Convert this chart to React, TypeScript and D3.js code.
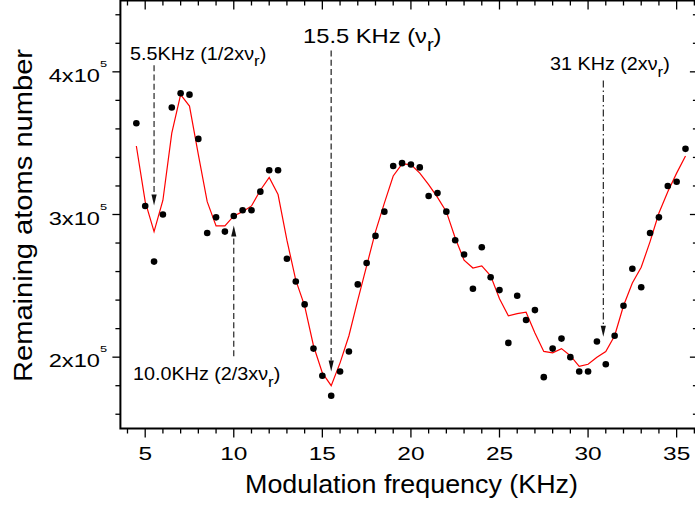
import React from 'react';
import * as d3 from 'd3';

// Modulation frequency (KHz)
const freqKHz = [4.5, 5, 5.5, 6, 6.5, 7, 7.5, 8, 8.5, 9, 9.5, 10, 10.5, 11, 11.5, 12, 12.5, 13, 13.5, 14, 14.5, 15, 15.5, 16, 16.5, 17, 17.5, 18, 18.5, 19, 19.5, 20, 20.5, 21, 21.5, 22, 22.5, 23, 23.5, 24, 24.5, 25, 25.5, 26, 26.5, 27, 27.5, 28, 28.5, 29, 29.5, 30, 30.5, 31, 31.5, 32, 32.5, 33, 33.5, 34, 34.5, 35, 35.5];

// Remaining atoms number (x10^5), measured points
const atomsE5 = [3.64, 3.06, 2.67, 3.00, 3.75, 3.85, 3.84, 3.53, 2.87, 2.98, 2.88, 2.99, 3.03, 3.03, 3.16, 3.31, 3.31, 2.69, 2.53, 2.37, 2.06, 1.87, 1.73, 1.90, 2.04, 2.51, 2.66, 2.85, 3.02, 3.34, 3.36, 3.35, 3.33, 3.13, 3.15, 3.02, 2.82, 2.72, 2.48, 2.77, 2.56, 2.47, 2.10, 2.43, 2.26, 2.33, 1.86, 2.06, 2.13, 2.00, 1.90, 1.90, 2.11, 1.95, 2.15, 2.36, 2.62, 2.49, 2.87, 2.98, 3.20, 3.23, 3.46];

// Smoothed curve (x10^5)
const smoothE5 = [3.48, 3.09, 2.88, 3.10, 3.57, 3.84, 3.76, 3.42, 3.09, 2.92, 2.92, 2.99, 3.02, 3.06, 3.17, 3.26, 3.14, 2.82, 2.54, 2.36, 2.08, 1.89, 1.80, 1.96, 2.15, 2.40, 2.64, 2.88, 3.08, 3.27, 3.355, 3.35, 3.29, 3.21, 3.12, 3.02, 2.835, 2.68, 2.625, 2.64, 2.57, 2.41, 2.29, 2.305, 2.315, 2.17, 2.04, 2.03, 2.06, 2.01, 1.935, 1.95, 2.00, 2.04, 2.15, 2.36, 2.52, 2.63, 2.81, 3.01, 3.16, 3.29, 3.41];

const xTickValues = [5, 10, 15, 20, 25, 30, 35];
const xTickLabels = ['5', '10', '15', '20', '25', '30', '35'];
const yTickValues = [2, 3, 4];
const yTickMantissa = ['2x10', '3x10', '4x10'];
const yTickExponent = '5';

// annotation arrows: frequency, start value, tip value (x10^5)
const arrowFreq = [5.5, 15.5, 30.86, 10.0];
const arrowStart = [4.047, 4.15, 3.94, 2.007];
const arrowTip = [3.063, 1.9, 2.143, 2.923];

const FONT = 'Liberation Sans, Arial, Helvetica, sans-serif';

export default function App() {
  const x = d3.scaleLinear().domain([3.6, 36.2]).range([120.4, 697.9]);
  const y = d3.scaleLinear().domain([1.5, 4.5]).range([428.5, 0.5]);
  const [x0, x1] = x.range();
  const [y0, y1] = y.range();

  const pts: [number, number][] = freqKHz.map((f, i) => [f, atomsE5[i]]);
  const fit: [number, number][] = freqKHz.map((f, i) => [f, smoothE5[i]]);
  const line = d3.line<[number, number]>().x(d => x(d[0])).y(d => y(d[1]));

  const xMinor = d3.range(4, 37, 1);
  const yMinor = d3.range(16, 45, 2).map(v => v / 10);

  const arrowStyles = [
    { stroke: '#111', dash: '6,3.3', w: 1.1 },
    { stroke: '#555', dash: '6,3.3', w: 1.6 },
    { stroke: '#111', dash: '7,3,1.5,3', w: 1.1 },
    { stroke: '#111', dash: '6,3.3', w: 1.1 },
  ];

  const annotations = [
    { x: 130, y: 59.5, size: 17.5, main: '5.5KHz (1/2x' },
    { x: 303, y: 43.3, size: 21, main: '15.5 KHz (' },
    { x: 550, y: 70, size: 17.5, main: '31 KHz (2x' },
    { x: 133, y: 380, size: 17.5, main: '10.0KHz (2/3x' },
  ];

  return (
    <svg width={695} height={515} style={{ position: 'absolute', left: 0, top: 0, background: '#fff' }} fontFamily={FONT}>
      <rect x={0} y={0} width={695} height={515} fill="#fff" />
      {/* arrows */}
      {arrowFreq.map((f, i) => {
        const ax = x(f);
        const ys = y(arrowStart[i]);
        const yt = y(arrowTip[i]);
        const dir = yt > ys ? 1 : -1;
        const base = yt - dir * 11;
        const st = arrowStyles[i];
        return (
          <g key={'a' + i}>
            <line x1={ax} x2={ax} y1={ys} y2={base} stroke={st.stroke} strokeWidth={st.w} strokeDasharray={st.dash} />
            <path d={`M${ax - 2.6},${base} L${ax + 2.6},${base} L${ax},${yt} Z`} fill="#111" />
          </g>
        );
      })}
      {/* smoothed curve */}
      <path d={line(fit) || ''} fill="none" stroke="#ff0000" strokeWidth={1.2} />
      {/* points */}
      {pts.map((d, i) => (
        <circle key={'p' + i} cx={x(d[0])} cy={y(d[1])} r={3.3} fill="#000" />
      ))}
      {/* frame */}
      <rect x={x0} y={y1} width={x1 - x0} height={y0 - y1} fill="none" stroke="#000" strokeWidth={2} />
      {/* x ticks bottom (out) and top (in) */}
      {xMinor.map(v => {
        const major = v % 5 === 0;
        const len = major ? 9 : 5;
        return (
          <g key={'xt' + v}>
            <line x1={x(v)} x2={x(v)} y1={y0} y2={y0 + len} stroke="#000" strokeWidth={1.3} />
            <line x1={x(v)} x2={x(v)} y1={y1} y2={y1 + len} stroke="#000" strokeWidth={1.3} />
          </g>
        );
      })}
      {/* y ticks left (out) and right (in) */}
      {yMinor.map(v => {
        const major = Math.abs(v - Math.round(v)) < 1e-6;
        const len = major ? 8 : 5;
        return (
          <g key={'yt' + v}>
            <line x1={x0 - len} x2={x0} y1={y(v)} y2={y(v)} stroke="#000" strokeWidth={1.3} />
            <line x1={x1 - len} x2={x1} y1={y(v)} y2={y(v)} stroke="#000" strokeWidth={1.3} />
          </g>
        );
      })}
      {/* x tick labels */}
      {xTickValues.map((v, i) => (
        <g key={'xl' + v} transform={`translate(${x(v)},460) scale(1.4,1)`}>
          <text x={0} y={0} textAnchor="middle" fontSize={17.5} fill="#000">{xTickLabels[i]}</text>
        </g>
      ))}
      {/* y tick labels */}
      {yTickValues.map((v, i) => (
        <g key={'yl' + v} transform={`translate(107,${y(v) + 10}) scale(1.35,1)`}>
          <text x={0} y={0} textAnchor="end" fontSize={17.5} fill="#000">
            {yTickMantissa[i]}
            <tspan fontSize={9.5} dy={-15}>{yTickExponent}</tspan>
          </text>
        </g>
      ))}
      {/* axis titles */}
      <text x={411.5} y={493.3} textAnchor="middle" fontSize={25} textLength={333} lengthAdjust="spacingAndGlyphs" fill="#000">
        Modulation frequency (KHz)
      </text>
      <text transform={`translate(31.7,215.5) rotate(-90)`} x={0} y={0} textAnchor="middle" fontSize={25} textLength={333} lengthAdjust="spacingAndGlyphs" fill="#000">
        Remaining atoms number
      </text>
      {/* annotation labels */}
      {annotations.map((a, i) => (
        <g key={'an' + i} transform={`translate(${a.x},${a.y}) scale(1.13,1)`}>
          <text x={0} y={0} fontSize={a.size} fill="#000">
            {a.main}ν
            <tspan fontSize="0.85em" dy={a.size * 0.38}>r</tspan>
            <tspan dy={-a.size * 0.38}>)</tspan>
          </text>
        </g>
      ))}
    </svg>
  );
}
